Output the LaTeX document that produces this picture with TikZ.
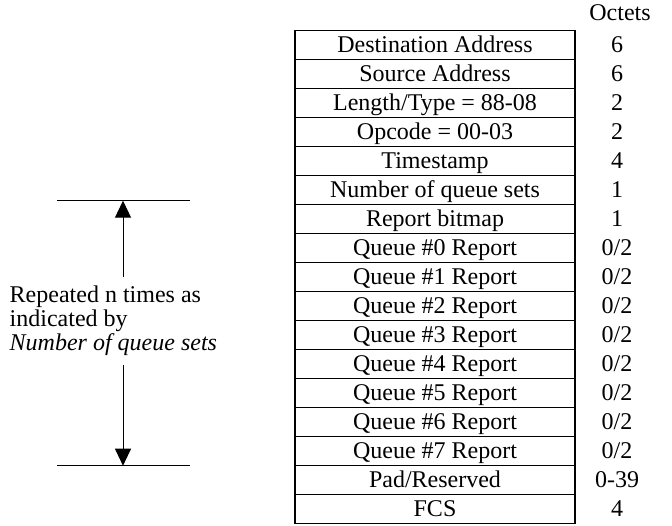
\documentclass[tikz,border=0pt]{standalone}
\usepackage{fontspec}
\setmainfont{Liberation Serif}
\usetikzlibrary{arrows.meta}
\tikzset{
  rowbox/.style={draw, line width=1.8pt, minimum width=280pt, minimum height=29pt, inner sep=0pt, anchor=center, text height=17pt, text depth=2pt},
  octet/.style={inner sep=0pt, anchor=center, text height=17pt, text depth=2pt},
  dimline/.style={line width=1pt},
  dimarrow/.style={line width=1pt, -{Triangle[width=16pt,length=17pt]}}
}
\begin{document}
\begin{tikzpicture}[x=1pt,y=-1pt, font=\fontsize{24}{24}\selectfont]
\useasboundingbox (0,0) rectangle (672,525);
\node[octet] (hdr) at (620,13) {Octets};
\foreach \t/\o [count=\i] in {
  {Destination Address}/{6},
  {Source Address}/{6},
  {Length/Type = 88-08}/{2},
  {Opcode = 00-03}/{2},
  {Timestamp}/{4},
  {Number of queue sets}/{1},
  {Report bitmap}/{1},
  {Queue \#0 Report}/{0/2},
  {Queue \#1 Report}/{0/2},
  {Queue \#2 Report}/{0/2},
  {Queue \#3 Report}/{0/2},
  {Queue \#4 Report}/{0/2},
  {Queue \#5 Report}/{0/2},
  {Queue \#6 Report}/{0/2},
  {Queue \#7 Report}/{0/2},
  {Pad/Reserved}/{0-39},
  {FCS}/{4}}{
  \node[rowbox] (r\i) at (435,{30.5+29*(\i-0.5)}) {\t};
  \node[octet] (o\i) at (617,{30.5+29*(\i-0.5)}) {\o};
}
% dimension
\coordinate (tl) at (57,200.7);
\coordinate (tr) at (190,200.7);
\coordinate (bl) at (57,465.7);
\coordinate (br) at (190,465.7);
\coordinate (ttip) at (123,200.7);
\coordinate (tstart) at (123,276.7);
\coordinate (btip) at (123,465.7);
\coordinate (bstart) at (123,365);
\draw[dimline] (tl) -- (tr);
\draw[dimline] (bl) -- (br);
\draw[dimarrow] (tstart) -- (ttip);
\draw[dimarrow] (bstart) -- (btip);
\node[anchor=west, align=left, inner sep=0pt] (lbl) at (9.5,321) {Repeated n times as\\indicated by\\\textit{Number of queue sets}};
\end{tikzpicture}
\end{document}
